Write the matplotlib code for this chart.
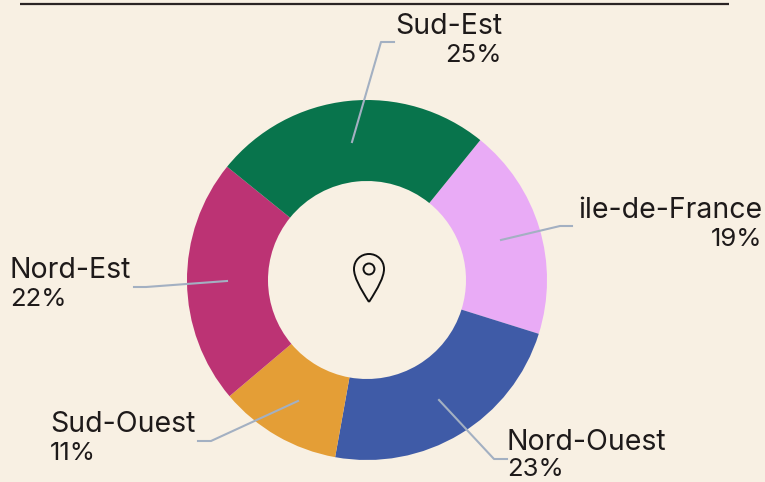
import matplotlib
matplotlib.use('Agg')
import matplotlib.pyplot as plt
from matplotlib.path import Path
from matplotlib.patches import PathPatch, Circle

# values clockwise starting from the sud-est / ile-de-france boundary
regions = ['ile-de-France', 'Nord-Ouest', 'Sud-Ouest', 'Nord-Est', 'Sud-Est']
shares = [19, 23, 11, 22, 25]
colors = ['#E9ABF6', '#3F5BA7', '#E49E36', '#BC3374', '#08744C']
bg = '#F8F0E3'
line_col = '#A3B0C2'

plt.rcParams['font.family'] = ['Inter', 'DejaVu Sans']

fig = plt.figure(figsize=(7.65, 4.82), dpi=100, facecolor=bg)

cx, cy = 367, 280
outer = 180
width = 81

# pie on its own axes, sized so radius 1 = outer px
pie_ax = fig.add_axes([(cx - outer) / 765, 1 - (cy + outer) / 482, 2 * outer / 765, 2 * outer / 482])
pie_ax.pie(shares, colors=colors, startangle=51, counterclock=False, radius=1,
           wedgeprops={'width': width / outer, 'linewidth': 0})
pie_ax.set_xlim(-1, 1)
pie_ax.set_ylim(-1, 1)
pie_ax.set_aspect('equal')

# overlay in pixel coordinates, above the pie
ax = fig.add_axes([0, 0, 1, 1], zorder=5)
ax.patch.set_alpha(0)
ax.set_xlim(0, 765)
ax.set_ylim(482, 0)
ax.axis('off')

# top rule
ax.plot([20, 729], [4, 4], color='#2B2424', lw=1.6, solid_capstyle='butt')

# label anchors (x, name y, percent y, alignment), same order as regions
anchors = [
    (762, 211, 240, 'right'),
    (507, 443, 470, 'left'),
    (50, 425, 453, 'left'),
    (10, 271, 300, 'left'),
    (502, 27, 55, 'right'),
]
for name, share, (x, y1, y2, ha) in zip(regions, shares, anchors):
    ax.text(x, y1, name, ha=ha, va='center', fontsize=20.5, color='#1E1A1A', zorder=6)
    ax.text(x, y2, f'{share}%', ha=ha, va='center', fontsize=18.5, color='#1E1A1A',
            fontweight='normal', zorder=6)

leaders = [
    ([352, 381, 394], [142, 42, 42]),
    ([501, 560, 572], [240, 226, 226]),
    ([439, 494, 507], [400, 459, 459]),
    ([298, 211, 198], [401, 441, 441]),
    ([227, 146, 134], [281, 287, 287]),
]
for xs, ys in leaders:
    ax.plot(xs, ys, color=line_col, lw=1.5, zorder=5)

# location pin in the middle
verts = [(369, 302), (360, 288), (354, 277), (354, 269), (354, 260), (361, 254), (369, 254),
         (377, 254), (384, 260), (384, 269), (384, 277), (378, 288), (369, 302)]
codes = [Path.MOVETO] + [Path.CURVE4] * 12
ax.add_patch(PathPatch(Path(verts, codes), fill=False, ec='#111111', lw=1.4, zorder=6))
ax.add_patch(Circle((369, 269), 5.5, fill=False, ec='#111111', lw=1.4, zorder=6))

fig.savefig('out.png', dpi=100, facecolor=bg)
